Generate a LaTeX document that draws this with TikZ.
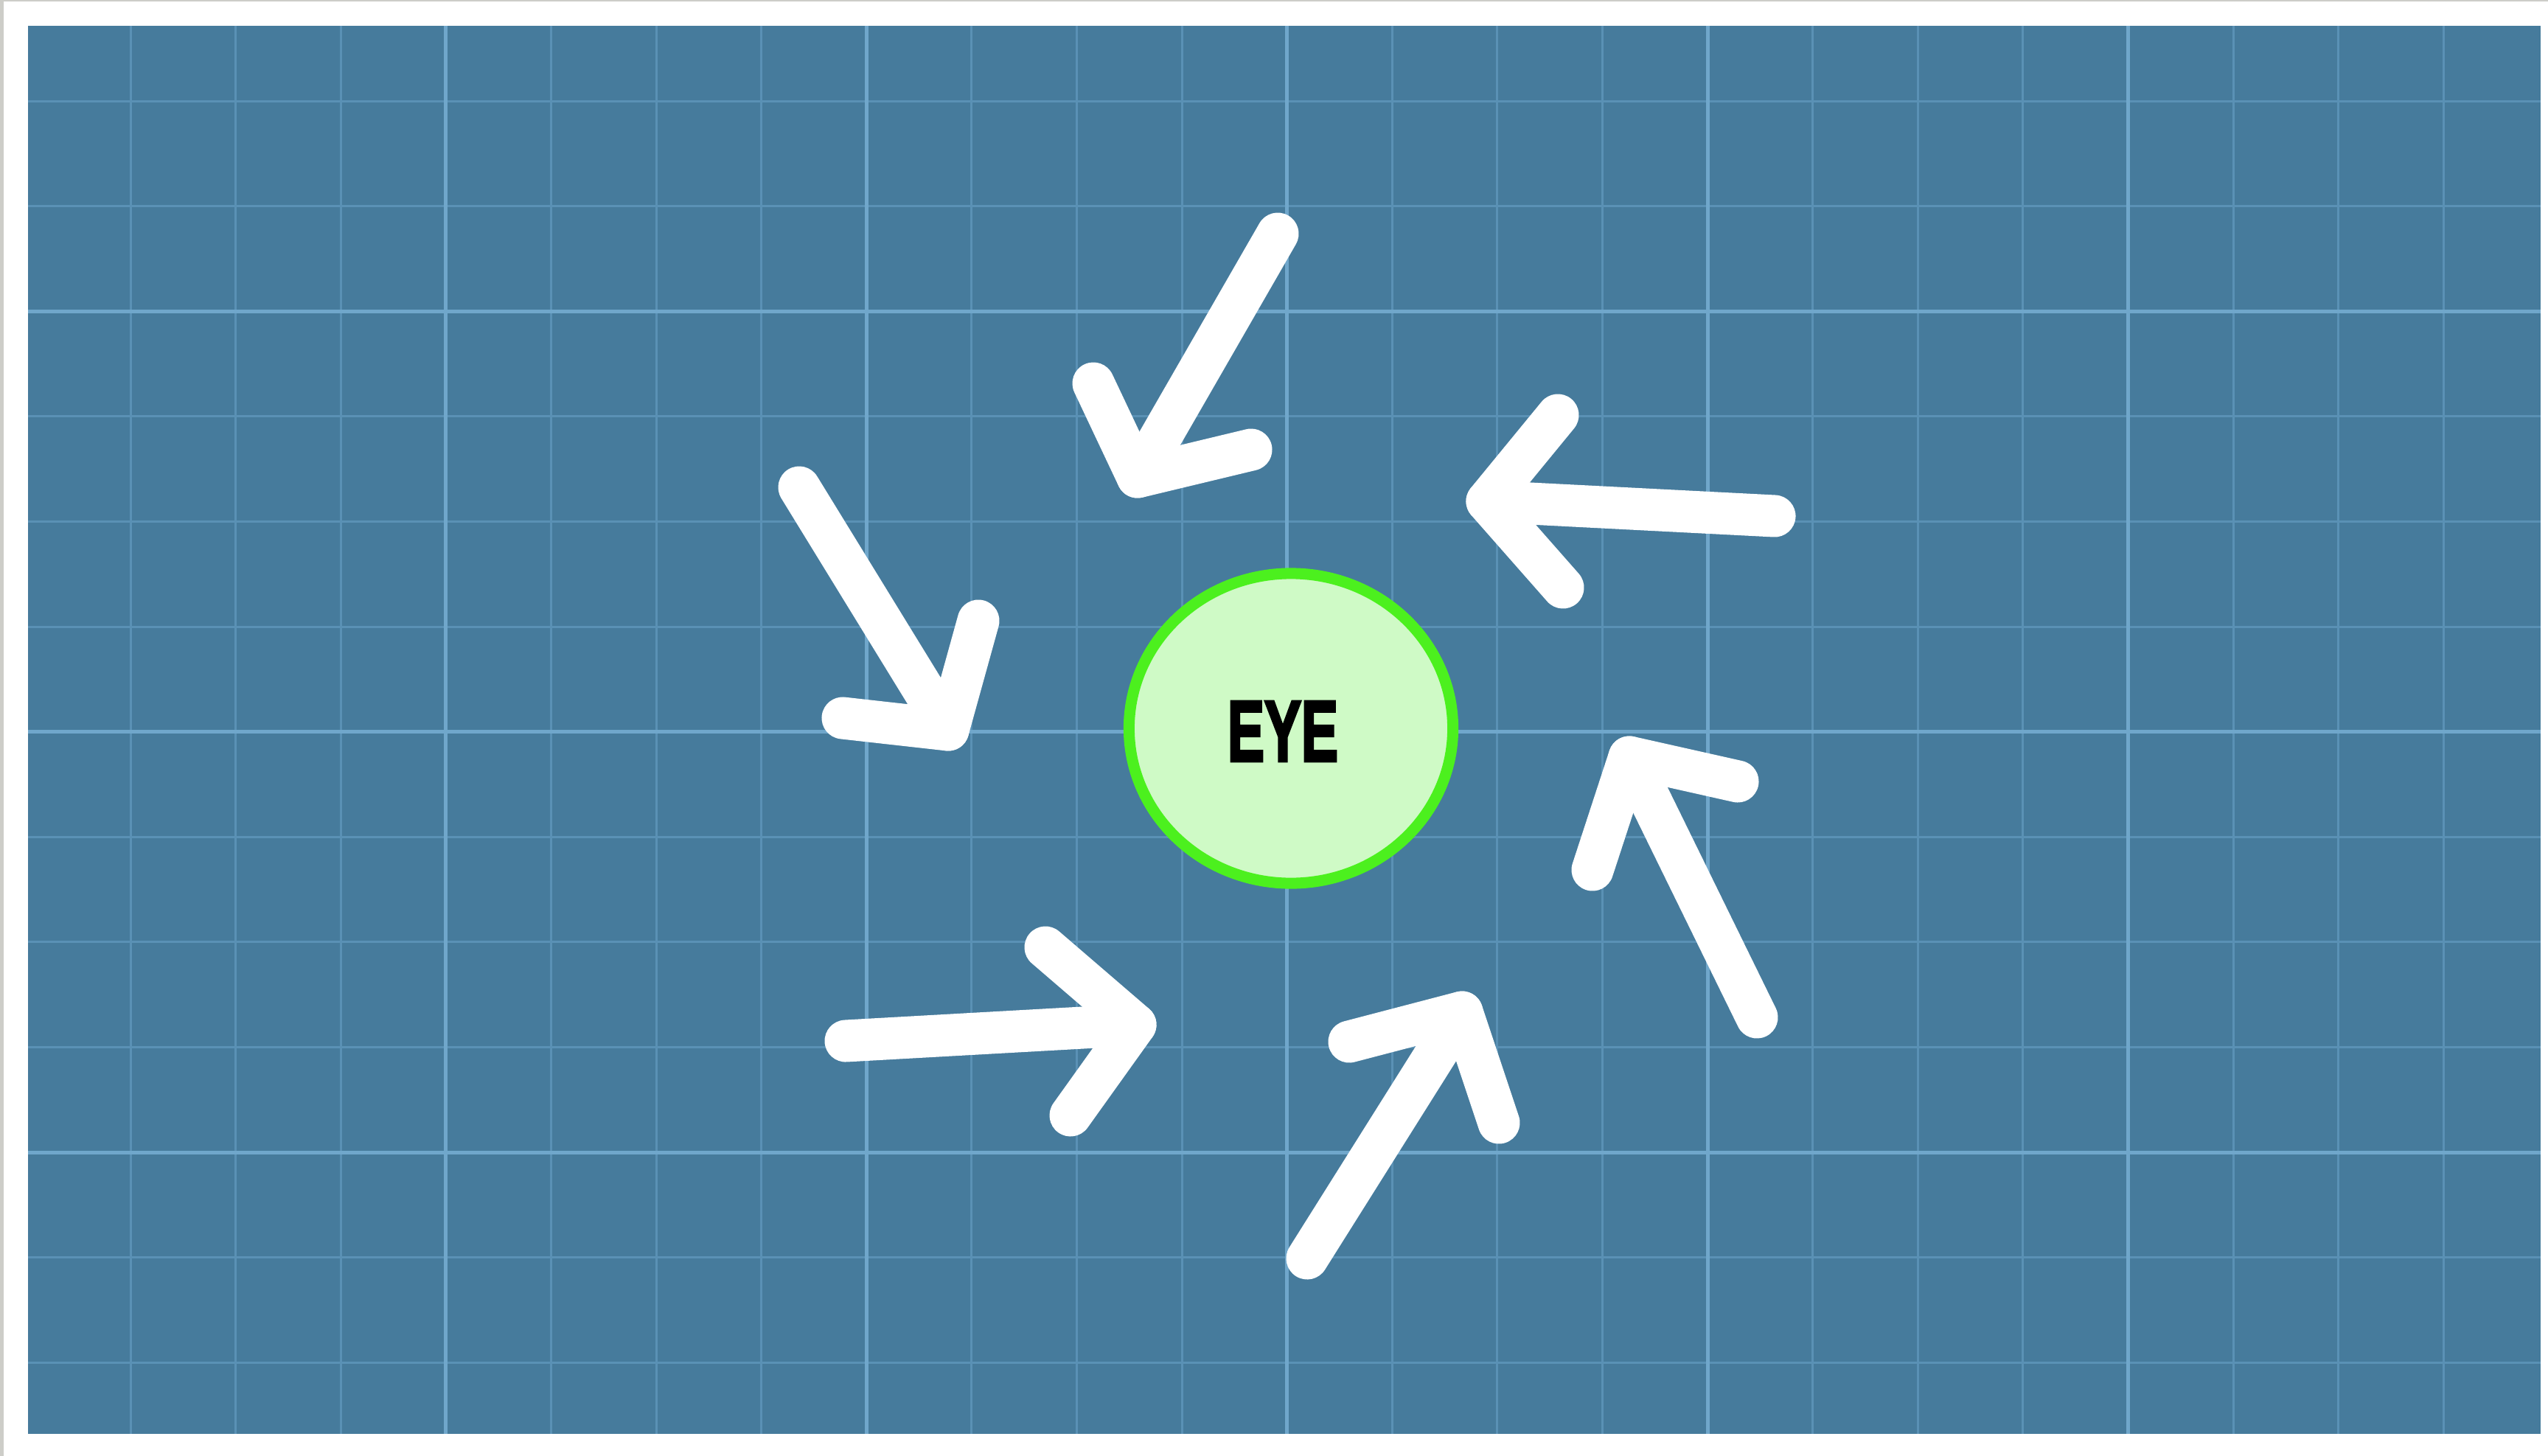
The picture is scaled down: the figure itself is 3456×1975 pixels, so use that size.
\documentclass[tikz,border=0pt]{standalone}
\usepackage{fontspec}
\newfontfamily\eyefont{Liberation Sans}[BoldFeatures={FakeBold=3.5}]
\usetikzlibrary{shapes.geometric}
\definecolor{bpbg}{RGB}{70,123,156}
\definecolor{bpminor}{RGB}{90,145,181}
\definecolor{bpmajor}{RGB}{112,167,203}
\definecolor{eyefill}{RGB}{207,250,198}
\definecolor{eyeline}{RGB}{76,240,30}
\definecolor{frameg}{RGB}{205,205,200}
\begin{document}
\begin{tikzpicture}[x=0.01cm,y=-0.01cm,
  arr/.style={draw=white, line width=0.57cm, line cap=round, line join=round},
  minorline/.style={draw=bpminor, line width=0.03cm},
  majorline/.style={draw=bpmajor, line width=0.05cm},
  eyestyle/.style={ellipse, draw=eyeline, fill=eyefill, line width=0.15cm,
    minimum width=4.39cm, minimum height=4.20cm, inner sep=0pt},
  eyetext/.style={font=\eyefont\bfseries\fontsize{33.3}{40}\selectfont, text=black, inner sep=0pt}]
\useasboundingbox (0,0) rectangle (3456,1975);
\fill[white] (0,0) rectangle (3456,1975);
\fill[frameg] (0,0) rectangle (3456,2);
\fill[frameg] (0,0) rectangle (5,1975);
\fill[bpbg] (38,35) rectangle (3446,1945);
% grid
\foreach \k in {0,...,22} \draw[minorline] ({177+142.6*\k},35) -- ({177+142.6*\k},1945);
\foreach \k in {0,...,12} \draw[minorline] (38,{137+142.6*\k}) -- (3446,{137+142.6*\k});
\foreach \k in {3,7,11,15,19} \draw[majorline] ({177+142.6*\k},35) -- ({177+142.6*\k},1945);
\foreach \k in {2,6,10} \draw[majorline] (38,{137+142.6*\k}) -- (3446,{137+142.6*\k});
% eye
\node[eyestyle] (eye) at (1751,988) {};
\node[eyetext] (eyelabel) at (1740,992) {\scalebox{0.64}[1]{EYE}};
% arrow 1 (top)
\coordinate (a1t) at (1733,317);
\coordinate (a1h) at (1543,647);
\coordinate (a1l) at (1483,520);
\coordinate (a1r) at (1697,610);
\draw[arr] (a1t) -- (a1h);
\draw[arr] (a1l) -- (a1h) -- (a1r);
% arrow 2 (upper left)
\coordinate (a2t) at (1084,661);
\coordinate (a2h) at (1286,990);
\coordinate (a2l) at (1143,974);
\coordinate (a2r) at (1327,842);
\draw[arr] (a2t) -- (a2h);
\draw[arr] (a2l) -- (a2h) -- (a2r);
% arrow 3 (lower left)
\coordinate (a3t) at (1147,1412);
\coordinate (a3h) at (1540,1390);
\coordinate (a3l) at (1418,1285);
\coordinate (a3r) at (1452,1513);
\draw[arr] (a3t) -- (a3h);
\draw[arr] (a3l) -- (a3h) -- (a3r);
% arrow 4 (bottom)
\coordinate (a4t) at (1773,1707);
\coordinate (a4h) at (1983,1373);
\coordinate (a4l) at (1830,1413);
\coordinate (a4r) at (2033,1523);
\draw[arr] (a4t) -- (a4h);
\draw[arr] (a4l) -- (a4h) -- (a4r);
% arrow 5 (right lower)
\coordinate (a5t) at (2383,1380);
\coordinate (a5h) at (2210,1027);
\coordinate (a5l) at (2160,1180);
\coordinate (a5r) at (2357,1060);
\draw[arr] (a5t) -- (a5h);
\draw[arr] (a5l) -- (a5h) -- (a5r);
% arrow 6 (right upper)
\coordinate (a6t) at (2407,700);
\coordinate (a6h) at (2017,680);
\coordinate (a6l) at (2113,563);
\coordinate (a6r) at (2120,797);
\draw[arr] (a6t) -- (a6h);
\draw[arr] (a6l) -- (a6h) -- (a6r);
\end{tikzpicture}
\end{document}
